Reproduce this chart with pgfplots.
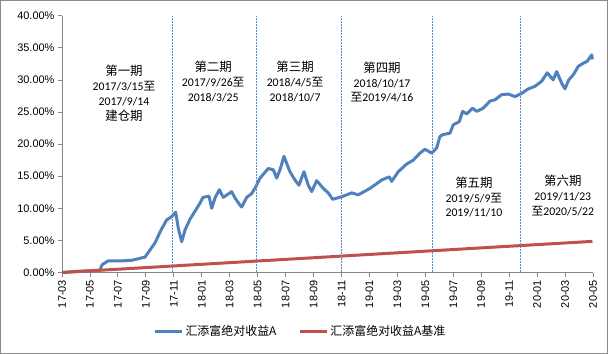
\documentclass[border=0pt]{standalone}
\usepackage{fontspec}
\usepackage{pgfplots}
\pgfplotsset{compat=1.18}
\setmainfont{Liberation Sans}
\newfontfamily\cjk{Noto Sans CJK SC}
\newfontfamily\calfont{Carlito}
\definecolor{sblue}{HTML}{4F81BD}
\definecolor{sred}{HTML}{C0504D}
\definecolor{vline}{HTML}{5B8BCB}
\definecolor{axgray}{HTML}{868686}
\definecolor{brd}{HTML}{8A8A8A}
\newcommand{\per}[1]{{\cjk\fontsize{12.5}{16}\selectfont #1}}
\tikzset{plab/.style={align=center, font=\calfont\fontsize{11.8}{15}\selectfont}}
\begin{document}
\begin{tikzpicture}
\useasboundingbox (0,0) rectangle (608bp,354bp);
\draw[brd, line width=0.9bp] (0.5bp,0.5bp) rectangle (607.5bp,353.5bp);
\begin{axis}[
  at={(62bp,81.5bp)}, anchor=south west,
  scale only axis, width=531bp, height=256.8bp,
  xmin=0, xmax=19, ymin=0, ymax=40,
  axis x line=bottom, axis y line=left,
  axis line style={-, axgray, line width=0.8bp},
  tick style={axgray, line width=0.8bp},
  tick align=outside, major tick length=4bp,
  xtick={0,...,19},
  xticklabels={17-03,17-05,17-07,17-09,17-11,18-01,18-03,18-05,18-07,18-09,18-11,19-01,19-03,19-05,19-07,19-09,19-11,20-01,20-03,20-05},
  xticklabel style={rotate=90, anchor=east, font=\fontsize{11}{13}\selectfont},
  ytick={0,5,...,40},
  yticklabel={\pgfmathprintnumber[fixed,fixed zerofill,precision=2]{\tick}\%},
  yticklabel style={font=\fontsize{11}{13}\selectfont},
  /pgf/number format/assume math mode=true,
  legend style={at={(0.449,-0.228)}, anchor=center, draw=none, legend columns=2,
    font=\cjk\fontsize{12}{13}\selectfont,
    /tikz/every even column/.append style={column sep=20bp}},
  legend image code/.code={\draw[#1, line width=3bp] (0bp,0bp) -- (27bp,0bp);},
  clip=false,
]
\addplot[sblue, line width=3bp, line join=round] coordinates {
(0,0) (0.644,0.2) (1.36,0.35) (1.431,1.2) (1.646,1.8) (2.075,1.8) (2.494,1.9)
(2.970,2.4) (3.149,3.5) (3.327,4.6) (3.542,6.6) (3.746,8.2) (3.925,8.7) (4.068,9.4)
(4.161,6.9) (4.283,4.8) (4.401,6.6) (4.580,8.3) (4.937,10.8) (5.045,11.7) (5.259,11.9)
(5.356,10.0) (5.474,11.6) (5.628,12.9) (5.771,11.7) (6.072,12.6) (6.190,11.6) (6.369,10.5)
(6.429,10.2) (6.608,11.7) (6.787,12.3) (6.941,13.4) (7.084,14.7) (7.381,16.2) (7.560,16.0)
(7.682,14.7) (7.800,16.0) (7.943,18.1) (8.039,17.0) (8.157,15.7) (8.336,14.4) (8.479,13.6)
(8.658,15.7) (8.812,13.6) (8.934,12.6) (9.113,14.3) (9.349,13.1) (9.528,12.4) (9.685,11.4)
(10.007,11.8) (10.365,12.4) (10.601,12.1) (11.020,13.1) (11.438,14.4) (11.710,14.9)
(11.796,14.2) (12.032,15.7) (12.333,16.9) (12.569,17.5) (12.809,18.6) (12.987,19.2)
(13.227,18.6) (13.406,19.4) (13.524,21.2) (13.642,21.5) (13.882,21.7) (14.000,23.0)
(14.215,23.5) (14.336,25.1) (14.479,24.7) (14.694,25.6) (14.837,25.1) (15.073,25.6)
(15.313,26.7) (15.492,26.9) (15.732,27.7) (15.968,27.8) (16.208,27.4) (16.447,27.9)
(16.683,28.6) (16.923,29.0) (17.163,29.8) (17.363,31.1) (17.578,30.0) (17.699,31.3)
(17.878,29.5) (17.996,28.6) (18.132,30.0) (18.293,30.8) (18.472,32.1) (18.651,32.6)
(18.794,32.9) (18.952,33.9) (18.980,33.2)
};
\addlegendentry{汇添富绝对收益A}
\addplot[sred, line width=3bp] coordinates {(0,0) (18.98,4.85)};
\addlegendentry{汇添富绝对收益A基准}
\addplot[vline, line width=0.8bp, dash pattern=on 2bp off 1bp, forget plot] coordinates {(3.95,0) (3.95,40)};
\addplot[vline, line width=0.8bp, dash pattern=on 2bp off 1bp, forget plot] coordinates {(6.94,0) (6.94,40)};
\addplot[vline, line width=0.8bp, dash pattern=on 2bp off 1bp, forget plot] coordinates {(9.98,0) (9.98,40)};
\addplot[vline, line width=0.8bp, dash pattern=on 2bp off 1bp, forget plot] coordinates {(13.26,0) (13.26,40)};
\addplot[vline, line width=0.8bp, dash pattern=on 2bp off 1bp, forget plot] coordinates {(16.41,0) (16.41,40)};
\node[plab] at (axis cs:2.218,27.96)
  {\per{第一期}\\2017/3/15{\cjk 至}\\2017/9/14\\\per{建仓期}};
\node[plab] at (axis cs:5.41,29.75)
  {\per{第二期}\\2017/9/26{\cjk 至}\\2018/3/25};
\node[plab] at (axis cs:8.34,29.75)
  {\per{第三期}\\2018/4/5{\cjk 至}\\2018/10/7};
\node[plab] at (axis cs:11.45,29.67)
  {\per{第四期}\\2018/10/17\\{\cjk 至}2019/4/16};
\node[plab] at (axis cs:14.74,11.76)
  {\per{第五期}\\2019/5/9{\cjk 至}\\2019/11/10};
\node[plab] at (axis cs:17.92,12.0)
  {\per{第六期}\\2019/11/23\\{\cjk 至}2020/5/22};
\end{axis}
\end{tikzpicture}
\end{document}
